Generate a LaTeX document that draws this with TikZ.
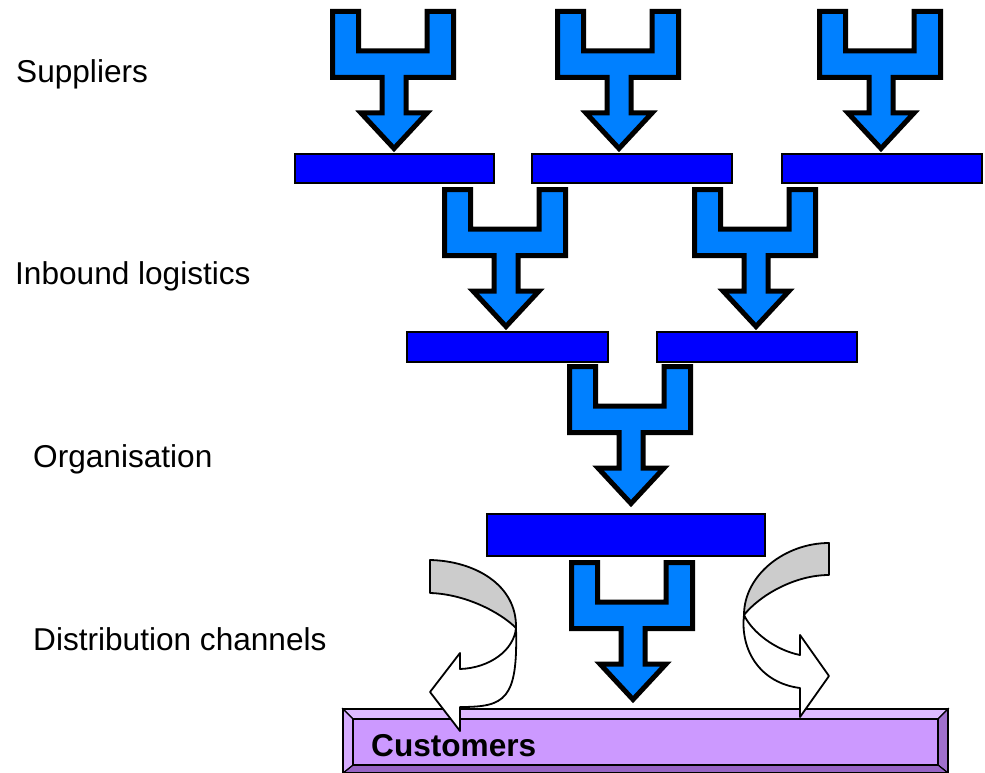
\documentclass[tikz,border=0pt]{standalone}
\usepackage{fontspec}
\setmainfont{Liberation Sans}
\definecolor{funnelblue}{RGB}{0,128,255}
\definecolor{barblue}{RGB}{0,0,255}
\definecolor{bandgray}{RGB}{204,204,204}
\definecolor{custface}{RGB}{204,153,255}
\definecolor{custtop}{RGB}{221,187,255}
\definecolor{custleft}{RGB}{214,172,255}
\definecolor{custright}{RGB}{160,112,204}
\definecolor{custbottom}{RGB}{150,100,196}
\begin{document}
\begin{tikzpicture}[x=1pt,y=-1pt,
  funnelstyle/.style={draw=black,line width=5pt,fill=funnelblue,line join=miter},
  barstyle/.style={draw=black,line width=1.6pt,fill=barblue},
  curvestyle/.style={draw=black,line width=1.8pt,line join=round},
  bevelstyle/.style={draw=black,line width=1.2pt},
  lbl/.style={anchor=base west,inner sep=0pt,font=\fontsize{31.6}{36}\selectfont},
  funnel/.pic={\path[funnelstyle] (2.5,2.5) -- (28.5,2.5) -- (28.5,42) -- (97,42) -- (97,2.5) -- (123.5,2.5) -- (123.5,68.5) -- (76,68.5) -- (76,104) -- (97,104) -- (64,139.5) -- (31,104) -- (52,104) -- (52,68.5) -- (2.5,68.5) -- cycle;}
]
\useasboundingbox (0,0) rectangle (985,773);

% labels
\node[lbl] (suppliers) at (16,83) {Suppliers};
\node[lbl] (inbound) at (15,284) {Inbound logistics};
\node[lbl] (organisation) at (33,467) {Organisation};
\node[lbl] (distribution) at (33,650) {Distribution channels};

% bars
\path[barstyle] (295,154) rectangle (494,183);
\path[barstyle] (532,154) rectangle (732,183);
\path[barstyle] (782,154) rectangle (982,183);
\path[barstyle] (407,332) rectangle (608,362);
\path[barstyle] (657,332) rectangle (857,362);
\path[barstyle] (487,514) rectangle (765,556);

% funnel arrows
\pic at (330,9) {funnel};
\pic at (555,9) {funnel};
\pic at (817,9) {funnel};
\pic at (442,187) {funnel};
\pic at (692,187) {funnel};
\pic at (567,364) {funnel};
\pic at (569,560) {funnel};

% customers box
\path[bevelstyle,fill=custtop] (343,709) -- (948,709) -- (938,719) -- (353,719) -- cycle;
\path[bevelstyle,fill=custright] (948,709) -- (948,773) -- (938,765) -- (938,719) -- cycle;
\path[bevelstyle,fill=custbottom] (343,773) -- (948,773) -- (938,765) -- (353,765) -- cycle;
\path[bevelstyle,fill=custleft] (343,709) -- (343,773) -- (353,765) -- (353,719) -- cycle;
\path[bevelstyle,fill=custface] (353,719) rectangle (938,765);
\draw[line width=2pt] (343,709) rectangle (948,773);
\node[lbl,font=\fontsize{31.6}{36}\selectfont\bfseries] (customers) at (371,756) {Customers};

% left curved arrow
\path[curvestyle,fill=bandgray] (430,560) .. controls (475,561) and (517,585) .. (516,628)
  .. controls (500,612) and (465,594) .. (430,593) -- cycle;
\path[curvestyle,fill=white] (516,628) .. controls (518,700) and (505,707) .. (460,707)
  -- (460,731) -- (430,692) -- (460,653) -- (460,669)
  .. controls (490,668) and (514,650) .. (516,628) -- cycle;

% right curved arrow
\path[curvestyle,fill=bandgray] (829,543) .. controls (785,543) and (744,575) .. (744,615)
  .. controls (760,595) and (795,575) .. (829,575) -- cycle;
\path[curvestyle,fill=white] (744,615) .. controls (740,650) and (760,683) .. (800,688)
  -- (800,717) -- (829,676) -- (800,635) -- (800,655)
  .. controls (775,650) and (752,632) .. (744,615) -- cycle;
\end{tikzpicture}
\end{document}
